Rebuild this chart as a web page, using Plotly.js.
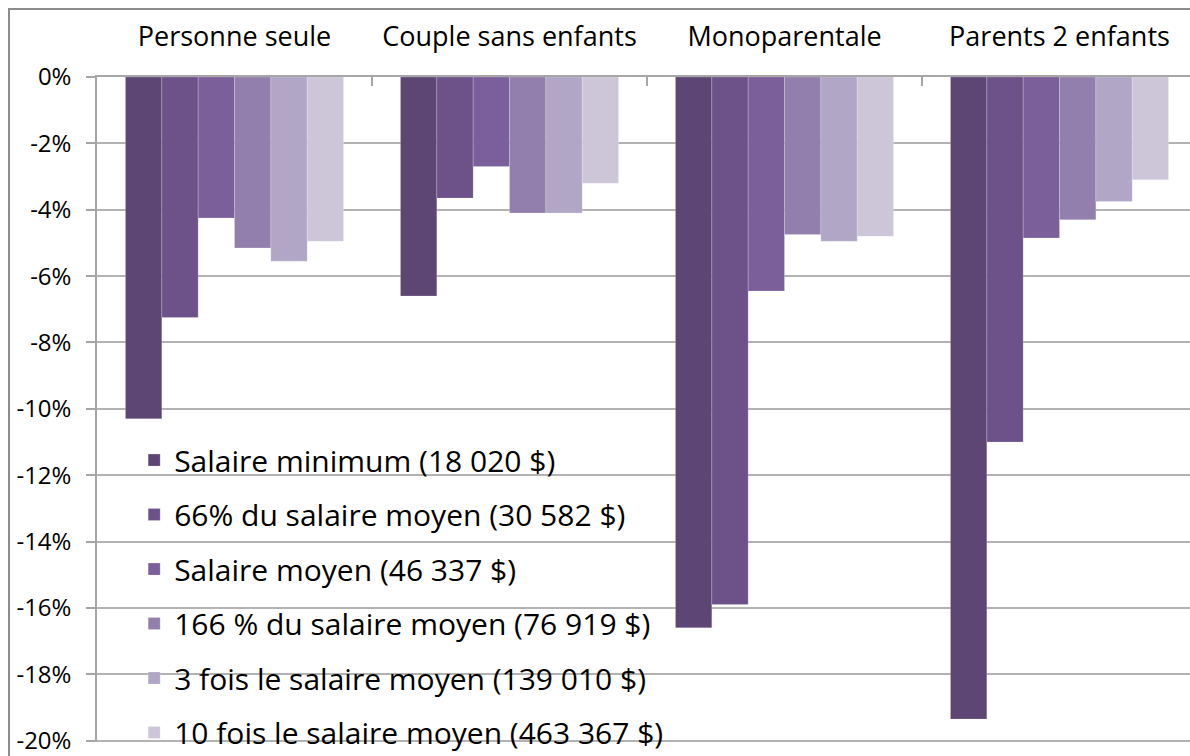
<!DOCTYPE html>
<html>
<head>
<meta charset="utf-8">
<script src="https://cdn.plot.ly/plotly-3.0.1.min.js"></script>
<style>
  html, body { margin: 0; padding: 0; background: #fff; }
  #wrap { position: relative; width: 1190px; height: 756px; overflow: hidden; }
  #chart { position: absolute; left: 0; top: 0; width: 1190px; height: 756px; }
  #frame { position: absolute; left: 8px; top: 8px; width: 1300px; height: 900px;
           border-left: 2px solid #8c8c8c; border-top: 2px solid #8c8c8c; pointer-events: none; }
</style>
</head>
<body>
<div id="wrap">
  <div id="chart"></div>
  <div id="frame"></div>
</div>
<script>
const categories = ["Personne seule", "Couple sans enfants", "Monoparentale", "Parents 2 enfants"];

const seriesNames = [
  "Salaire minimum (18 020 $)",
  "66% du salaire moyen (30 582 $)",
  "Salaire moyen (46 337 $)",
  "166 % du salaire moyen (76 919 $)",
  "3 fois le salaire moyen (139 010 $)",
  "10 fois le salaire moyen (463 367 $)"
];

const salaireMinimum   = [-10.3, -6.6, -16.6, -19.35];
const salaire66        = [-7.25, -3.65, -15.9, -11.0];
const salaireMoyen     = [-4.25, -2.7, -6.45, -4.85];
const salaire166       = [-5.15, -4.1, -4.75, -4.3];
const salaire3fois     = [-5.55, -4.1, -4.95, -3.75];
const salaire10fois    = [-4.95, -3.2, -4.8, -3.1];

const seriesValues = [salaireMinimum, salaire66, salaireMoyen, salaire166, salaire3fois, salaire10fois];
const colors = ["#5D4674", "#6C5288", "#7B5F9A", "#937FAD", "#B1A6C6", "#CDC6D9"];

const yTickValues = [0, -2, -4, -6, -8, -10, -12, -14, -16, -18, -20];
const yTickLabels = ["0%", "-2%", "-4%", "-6%", "-8%", "-10%", "-12%", "-14%", "-16%", "-18%", "-20%"];

const FONT = "Open Sans, Lato, sans-serif";

const traces = seriesValues.map((vals, i) => ({
  type: "bar",
  name: seriesNames[i],
  x: categories,
  y: vals,
  legendgroup: "g" + i,
  marker: { color: colors[i], line: { width: 0.8, color: "rgba(255,255,255,0.25)" } },
  hoverinfo: "x+y+name"
}));

const layout = {
  width: 1190,
  height: 756,
  margin: { l: 97, r: 0, t: 77, b: 14, pad: 0, autoexpand: false },
  paper_bgcolor: "#fff",
  plot_bgcolor: "#fff",
  barmode: "group",
  bargap: 0.207,
  bargroupgap: 0,
  font: { family: FONT, color: "#000" },
  showlegend: true,
  legend: {
    x: 0.034, xanchor: "left",
    y: 0.463, yanchor: "top",
    bgcolor: "rgba(0,0,0,0)",
    font: { family: FONT, size: 30, color: "#000" },
    traceorder: "grouped",
    tracegroupgap: 12.5,
    itemwidth: 30
  },
  xaxis: {
    type: "category",
    side: "top",
    range: [-0.5, 3.4745],
    showline: true,
    linecolor: "#a6a6a6",
    linewidth: 1.5,
    ticks: "inside",
    tickson: "boundaries",
    ticklen: 9,
    tickcolor: "#a6a6a6",
    tickwidth: 1.5,
    showgrid: false,
    tickfont: { family: FONT, size: 27, color: "#000" },
    ticklabelstandoff: 18,
    fixedrange: true
  },
  yaxis: {
    range: [-20.04, 0],
    tickvals: yTickValues,
    ticktext: yTickLabels,
    showline: true,
    linecolor: "#a6a6a6",
    linewidth: 1.5,
    ticks: "outside",
    ticklen: 9,
    tickcolor: "#a6a6a6",
    tickwidth: 1.5,
    showgrid: true,
    gridcolor: "#b3b3b3",
    gridwidth: 1.5,
    zeroline: false,
    tickfont: { family: FONT, size: 24, color: "#000" },
    ticklabelstandoff: 10,
    ticklabeloverflow: "allow",
    fixedrange: true
  }
};

Plotly.newPlot("chart", traces, layout, { displayModeBar: false });
</script>
</body>
</html>
